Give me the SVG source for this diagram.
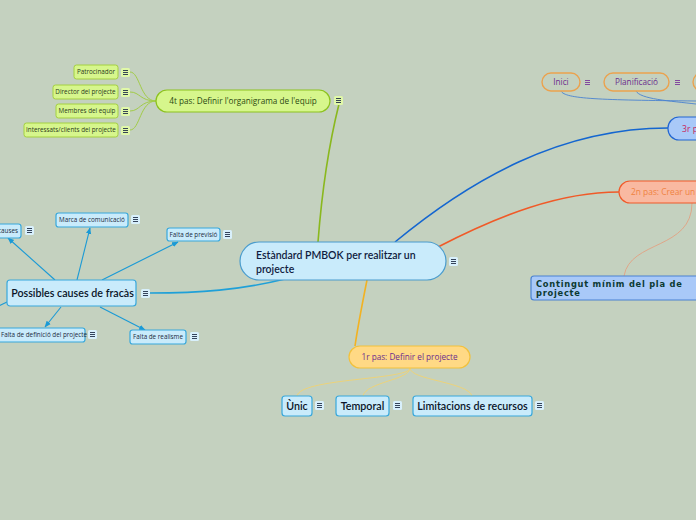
<svg xmlns="http://www.w3.org/2000/svg" width="696" height="520" viewBox="0 0 696 520">
<defs>
<style>
text{font-family:"Open Sans","Noto Sans","DejaVu Sans",sans-serif}
.bg{fill:#c4d1bf}
.central{fill:#c9ebfb;stroke:#4a9ccd;stroke-width:1.2}
.blue{fill:#c9ebfb;stroke:#38a8dc;stroke-width:1.2}
.green{fill:#d6f68c;stroke:#8cc21e;stroke-width:1.2}
.greenS{fill:#d6f68c;stroke:#a4d040;stroke-width:1}
.yellow{fill:#ffd985;stroke:#f2c13c;stroke-width:1.2}
.salmon{fill:#f9b9a1;stroke:#f05a2a;stroke-width:1.2}
.sky{fill:#a9c9f8;stroke:#2266d2;stroke-width:1.2}
.sky2{fill:#a9c9f8;stroke:#4a82d2;stroke-width:1.2}
.orangeO{fill:none;stroke:#eba24e;stroke-width:1.4}
.t-c{font-family:Lato,"Open Sans",sans-serif;font-size:10.5px;fill:#101c40;font-weight:600}
.t-g{font-size:8.2px;fill:#2b4a12;font-weight:500}
.t-gs{font-size:6.3px;fill:#2b3a20}
.t-bs{font-size:6.3px;fill:#1b2a40}
.t-b{font-family:Lato,"Open Sans",sans-serif;font-size:10.7px;fill:#0a1428;font-weight:600}
.t-p{font-size:8.2px;fill:#6b2e8e}
.t-o{font-size:8.4px;fill:#f08240}
.t-r{font-size:8.6px;fill:#c81e5a}
.t-k{font-family:"DejaVu Sans",sans-serif;font-weight:bold;font-size:8.3px;fill:#0c3a32;letter-spacing:0.75px}
.arrow{fill:none;stroke:#1a9ad6;stroke-width:1.1;marker-end:url(#ah)}
</style>
<marker id="ah" viewBox="0 0 10 10" refX="9" refY="5" markerWidth="6" markerHeight="6" orient="auto">
<path d="M0,1 L10,5 L0,9 z" fill="#1a9ad6"/>
</marker>
<symbol id="menu" viewBox="0 0 9 9" width="9" height="9">
<rect x="0" y="0" width="9" height="9" rx="1.5" fill="currentColor"/>
<path d="M2,2.5 H7 M2,4.5 H7 M2,6.5 H7" stroke="#22304a" stroke-width="0.9"/>
</symbol>
<symbol id="menuP" viewBox="0 0 9 9" width="9" height="9">
<path d="M2,2.5 H7 M2,4.5 H7 M2,6.5 H7" stroke="#7a3a9a" stroke-width="0.9"/>
</symbol>
</defs>
<rect class="bg" x="0" y="0" width="696" height="520"/>

<g id="connectors">
<path d="M339,104 C330,140 322,190 318,242" fill="none" stroke="#8ab81e" stroke-width="1.6"/>
<path d="M395,242 C470,180 560,128 668,128" fill="none" stroke="#1466d0" stroke-width="1.6"/>
<path d="M438,247 C500,215 560,192 619,192" fill="none" stroke="#f05a28" stroke-width="1.6"/>
<path d="M367,280 C362,305 358,325 355,346" fill="none" stroke="#f2b222" stroke-width="1.6"/>
<path d="M285,279 C240,290 200,293 150,293" fill="none" stroke="#1fa0d8" stroke-width="1.6"/>
<g fill="none" stroke="#a2cc48" stroke-width="1">
<path d="M156,101 C140,101 140,72 130,72"/>
<path d="M156,101 C140,101 140,92 130,92"/>
<path d="M156,101 C140,101 140,111 130,111"/>
<path d="M156,101 C140,101 140,130 130,130"/>
</g>
<path class="arrow" d="M55,280 L8,238"/>
<path class="arrow" d="M77,280 L90,228"/>
<path class="arrow" d="M102,280 L178,242"/>
<path class="arrow" d="M61,307 L45,327"/>
<path class="arrow" d="M100,307 L145,330"/>
<path d="M7,302 L-10,310" fill="none" stroke="#1a9ad6" stroke-width="1.1"/>
<g fill="none" stroke="#4a82d0" stroke-width="0.9">
<path d="M561,91 C565,99 600,100 696,101"/>
<path d="M636,91 C640,99 670,101 696,104"/>
</g>
<path d="M692,203 C692,250 630,240 624,276" fill="none" stroke="#e2a282" stroke-width="0.9"/>
<g fill="none" stroke="#f0d272" stroke-width="0.9">
<path d="M410,368 C410,380 300,378 297,396"/>
<path d="M410,368 C410,380 366,382 363,396"/>
<path d="M410,368 C410,380 468,382 472,396"/>
</g>
</g>

<g id="central">
<rect class="central" x="240" y="242" width="206" height="38" rx="19"/>
<text class="t-c" x="256" y="259">Estàndard PMBOK per realitzar un</text>
<text class="t-c" x="256" y="273">projecte</text>
<use href="#menu" x="449" y="257" color="#d8f0fc"/>
</g>

<g id="pas4">
<rect class="green" x="156" y="90" width="174" height="22" rx="11"/>
<text class="t-g" x="243" y="104" text-anchor="middle">4t pas: Definir l'organigrama de l'equip</text>
<use href="#menu" x="334" y="96" color="#e0f8a8"/>
</g>
<g id="patrocinador">
<rect class="greenS" x="74" y="65" width="44" height="14" rx="2.5"/>
<text class="t-gs" x="96" y="74.3" text-anchor="middle">Patrocinador</text>
<use href="#menu" x="121" y="68" color="#e0f8a8"/>
</g>
<g id="director">
<rect class="greenS" x="53" y="85" width="65" height="14" rx="2.5"/>
<text class="t-gs" x="85.5" y="94.3" text-anchor="middle">Director del projecte</text>
<use href="#menu" x="121" y="88" color="#e0f8a8"/>
</g>
<g id="membres">
<rect class="greenS" x="56" y="104" width="62" height="14" rx="2.5"/>
<text class="t-gs" x="87" y="113.3" text-anchor="middle">Membres del equip</text>
<use href="#menu" x="121" y="107" color="#e0f8a8"/>
</g>
<g id="interessats">
<rect class="greenS" x="24" y="123" width="94" height="14" rx="2.5"/>
<text class="t-gs" x="71" y="132.3" text-anchor="middle">Interessats/clients del projecte</text>
<use href="#menu" x="121" y="126" color="#e0f8a8"/>
</g>

<g id="possibles">
<rect class="blue" x="7" y="280" width="129" height="26" rx="3"/>
<text class="t-b" x="72.5" y="297" text-anchor="middle">Possibles causes de fracàs</text>
<use href="#menu" x="141" y="289" color="#d8f0fc"/>
</g>
<g id="causes">
<rect class="blue" x="-40" y="224" width="61" height="14" rx="2.5"/>
<text class="t-bs" x="18" y="233.3" text-anchor="end">causes</text>
<use href="#menu" x="25" y="226" color="#d8f0fc"/>
</g>
<g id="marca">
<rect class="blue" x="56" y="213" width="72" height="14" rx="2.5"/>
<text class="t-bs" x="92" y="222.3" text-anchor="middle">Marca de comunicació</text>
<use href="#menu" x="131" y="215" color="#d8f0fc"/>
</g>
<g id="previsio">
<rect class="blue" x="167" y="228" width="53" height="13" rx="2.5"/>
<text class="t-bs" x="193.5" y="236.8" text-anchor="middle">Falta de previsió</text>
<use href="#menu" x="223" y="230" color="#d8f0fc"/>
</g>
<g id="definicio">
<rect class="blue" x="-10" y="328" width="95" height="14" rx="2.5"/>
<text class="t-bs" x="1" y="337.3">Falta de definició del projecte</text>
<use href="#menu" x="88" y="330" color="#d8f0fc"/>
</g>
<g id="realisme">
<rect class="blue" x="130" y="330" width="56" height="14" rx="2.5"/>
<text class="t-bs" x="158" y="339.3" text-anchor="middle">Falta de realisme</text>
<use href="#menu" x="190" y="332" color="#d8f0fc"/>
</g>

<g id="pas3">
<rect class="sky" x="668" y="117" width="60" height="23" rx="11"/>
<text class="t-r" x="682" y="131.5">3r pas</text>
</g>
<g id="inici">
<rect class="orangeO" x="542" y="73" width="38" height="18" rx="9"/>
<text class="t-p" x="561" y="85" text-anchor="middle">Inici</text>
<use href="#menuP" x="583" y="78"/>
</g>
<g id="planificacio">
<rect class="orangeO" x="604" y="73" width="65" height="18" rx="9"/>
<text class="t-p" x="636.5" y="85" text-anchor="middle">Planificació</text>
<use href="#menuP" x="673" y="78"/>
</g>
<g id="fase3">
<rect class="orangeO" x="693" y="73" width="40" height="18" rx="9"/>
</g>

<g id="pas2">
<rect class="salmon" x="619" y="181" width="100" height="22" rx="11"/>
<text class="t-o" x="631" y="195">2n pas: Crear un</text>
</g>
<g id="contingut">
<rect class="sky2" x="531" y="276" width="200" height="24" rx="3"/>
<text class="t-k" x="536" y="287">Contingut mínim del pla de</text>
<text class="t-k" x="536" y="296">projecte</text>
</g>

<g id="pas1">
<rect class="yellow" x="349" y="346" width="121" height="22" rx="11"/>
<text class="t-p" x="409.5" y="360" text-anchor="middle">1r pas: Definir el projecte</text>
</g>
<g id="unic">
<rect class="blue" x="282" y="396" width="30" height="20" rx="3"/>
<text class="t-b" x="297" y="410" text-anchor="middle">Ùnic</text>
<use href="#menu" x="315" y="401" color="#d8f0fc"/>
</g>
<g id="temporal">
<rect class="blue" x="336" y="396" width="53" height="20" rx="3"/>
<text class="t-b" x="362.5" y="410" text-anchor="middle">Temporal</text>
<use href="#menu" x="393" y="401" color="#d8f0fc"/>
</g>
<g id="limitacions">
<rect class="blue" x="413" y="396" width="119" height="20" rx="3"/>
<text class="t-b" x="472.5" y="410" text-anchor="middle">Limitacions de recursos</text>
<use href="#menu" x="535" y="401" color="#d8f0fc"/>
</g>
</svg>
